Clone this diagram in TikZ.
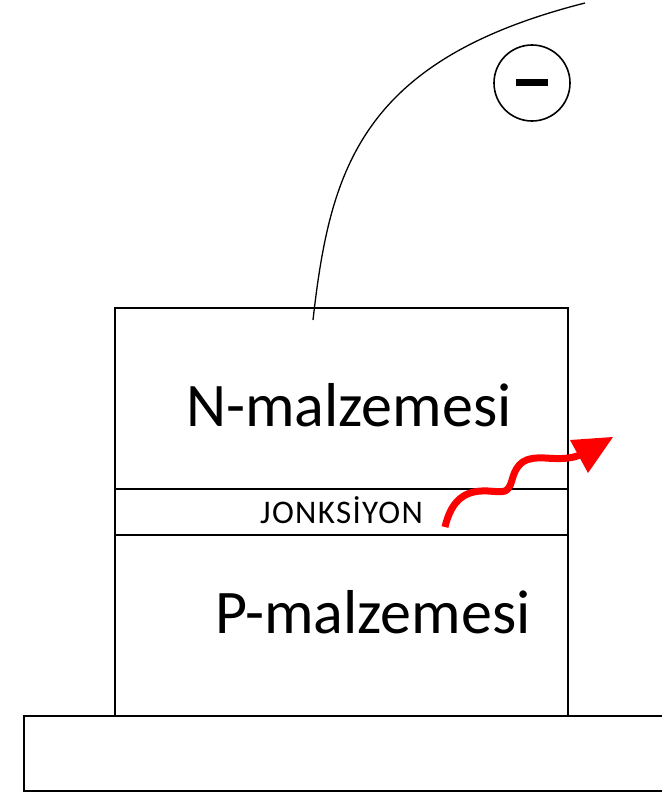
\documentclass[tikz,border=0pt]{standalone}
\usepackage{fontspec}
\setmainfont{Carlito}
\newfontfamily\spacedfont[LetterSpace=4]{Carlito}
\begin{document}
\begin{tikzpicture}[x=1pt,y=-1pt,
  box/.style={draw=black,line width=1.4pt},
  bigtext/.style={font=\fontsize{62}{62}\selectfont,anchor=base west,inner sep=0pt},
  smalltext/.style={font=\spacedfont\fontsize{33}{33}\selectfont,anchor=base west,inner sep=0pt}]
\useasboundingbox (0,0) rectangle (661,792);
% base plate, running off the right edge
\draw[box] (24,716) rectangle (675,791);
% semiconductor stack
\draw[box] (115,308) rectangle (568,716);
\draw[box] (115,489) -- (568,489);
\draw[box] (115,535) -- (568,535);
\node[bigtext] (n) at (186,426) {N-malzemesi};
\node[bigtext] (p) at (215,633) {P-malzemesi};
\node[smalltext] (j) at (260,523) {JONKS\.IYON};
% lead wire
\coordinate (wa) at (313,320);
\coordinate (wb) at (585,3);
\draw[line width=1.3pt] (wa) .. controls (330,170) and (360,60) .. (wb);
% electron symbol
\node[draw=black,line width=1.6pt,circle,minimum size=76pt,inner sep=0pt] (e) at (532,83) {};
\fill (516,79) rectangle (548,86);
% emitted light
\coordinate (ls) at (445,527);
\coordinate (lt) at (613,437);
\draw[red,line width=7pt] (ls) .. controls (452,497) and (468,490) .. (488,491)
  .. controls (504,492) and (508,494) .. (512,480)
  .. controls (517,462) and (525,457) .. (545,458)
  .. controls (560,459) and (570,459) .. (580,455);
\fill[red] (lt) -- (570,440) -- (588,473) -- cycle;
\end{tikzpicture}
\end{document}
